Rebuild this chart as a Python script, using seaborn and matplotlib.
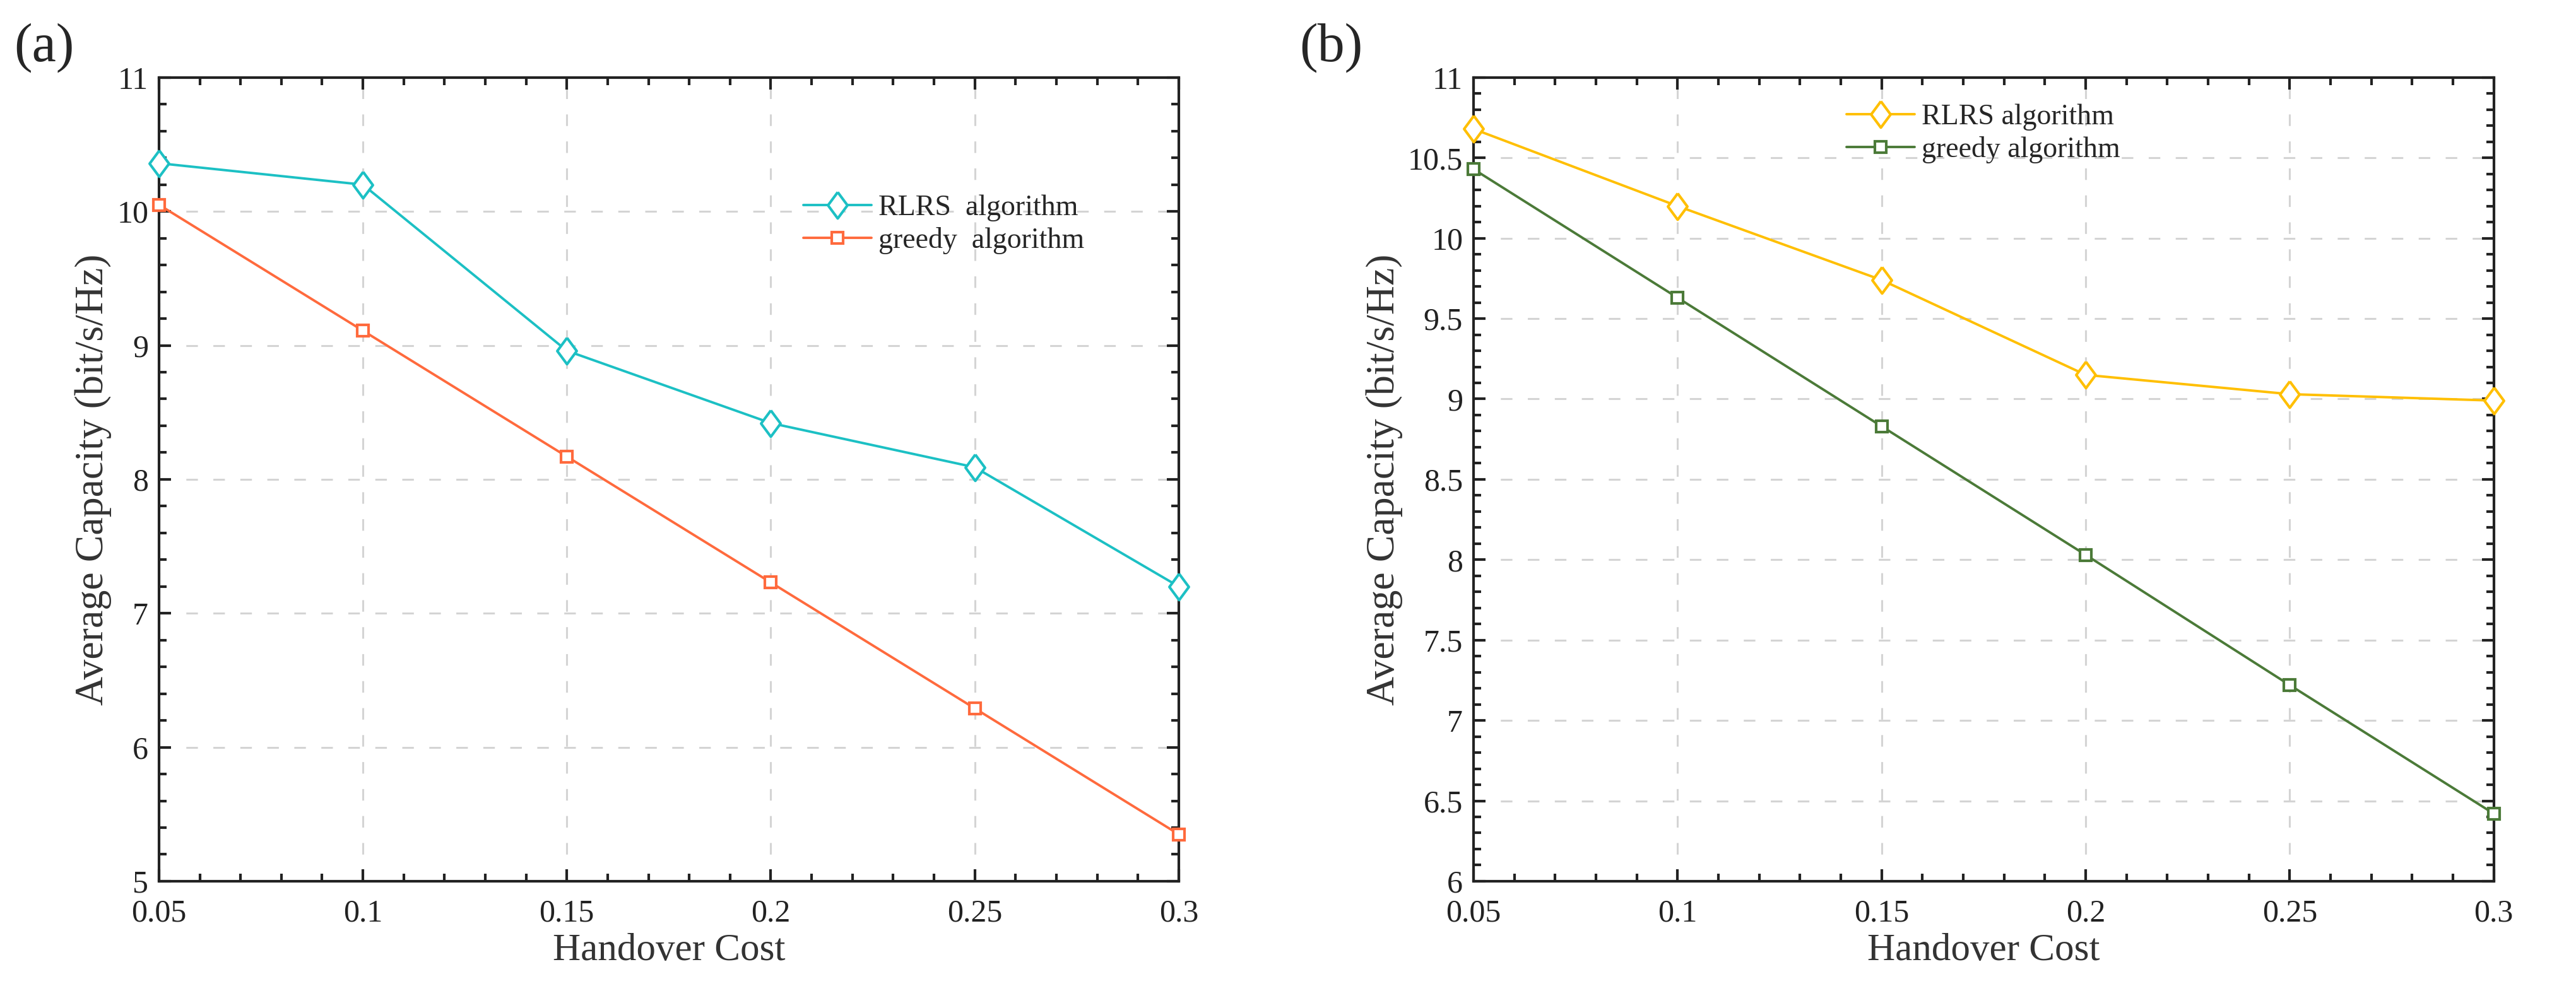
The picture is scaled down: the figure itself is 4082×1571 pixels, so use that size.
import numpy as np
import pandas as pd
import matplotlib
matplotlib.use("Agg")
import matplotlib.pyplot as plt
import seaborn as sns
from matplotlib.ticker import AutoMinorLocator, FormatStrFormatter

# data
handover_cost = [0.05, 0.1, 0.15, 0.2, 0.25, 0.3]
rlrs_a = [10.36, 10.20, 8.96, 8.42, 8.09, 7.20]
greedy_a = [10.05, 9.11, 8.17, 7.23, 6.29, 5.35]
rlrs_b = [10.68, 10.20, 9.74, 9.15, 9.03, 8.99]
greedy_b = [10.43, 9.63, 8.83, 8.03, 7.22, 6.42]

sns.set_theme(style="ticks")
plt.rcParams["font.family"] = ["Liberation Serif", "DejaVu Serif"]
plt.rcParams["axes.linewidth"] = 3
plt.rcParams["xtick.major.width"] = 3
plt.rcParams["ytick.major.width"] = 3
plt.rcParams["xtick.minor.width"] = 3
plt.rcParams["ytick.minor.width"] = 3

diamond = [(0, 1), (0.74, 0), (0, -1), (-0.74, 0), (0, 1)]

fig = plt.figure(figsize=(40.82, 15.71), dpi=100)
ax_a = fig.add_axes([0.0617, 0.1108, 0.3959, 0.811])
ax_b = fig.add_axes([0.572, 0.1108, 0.3961, 0.811])


def draw(ax, rlrs, greedy, c1, c2, names, ylim, ymajor, leg_xy):
    df = pd.DataFrame({"cost": handover_cost, "rlrs": rlrs, "greedy": greedy})
    sns.lineplot(data=df, x="cost", y="rlrs", ax=ax, color=c1, lw=2.8,
                 marker=diamond, markersize=30, markerfacecolor="white",
                 markeredgecolor=c1, markeredgewidth=3, label=names[0],
                 clip_on=False, zorder=4)
    sns.lineplot(data=df, x="cost", y="greedy", ax=ax, color=c2, lw=2.8,
                 marker="s", markersize=13, markerfacecolor="white",
                 markeredgecolor=c2, markeredgewidth=3, label=names[1],
                 clip_on=False, zorder=4)
    ax.set_xlim(0.05, 0.3)
    ax.set_ylim(*ylim)
    ax.set_xticks(handover_cost)
    ax.set_yticks(np.arange(ylim[0], ylim[1] + 1e-9, ymajor))
    ax.xaxis.set_major_formatter(FormatStrFormatter("%g"))
    ax.yaxis.set_major_formatter(FormatStrFormatter("%g"))
    ax.xaxis.set_minor_locator(AutoMinorLocator(5))
    ax.yaxis.set_minor_locator(AutoMinorLocator(5))
    ax.tick_params(which="both", direction="in", top=True, right=True,
                   labelsize=36, colors="#222222")
    ax.tick_params(which="major", length=14)
    ax.tick_params(which="minor", length=8.5)
    ax.tick_params(axis="x", which="major", pad=20)
    ax.tick_params(axis="y", which="major", pad=12)
    ax.grid(True, which="major", color="#d4d4d4", lw=2.2, ls=(0, (6, 8)))
    for s in ax.spines.values():
        s.set_color("#222222")
    ax.set_xlabel("Handover Cost", fontsize=44, color="#333333", labelpad=6)
    ax.set_ylabel("Average Capacity (bit/s/Hz)", fontsize=46,
                  color="#333333", labelpad=6)
    ax.legend(loc="center left", bbox_to_anchor=leg_xy, frameon=False,
              fontsize=33, handlelength=2.35, handletextpad=0.25,
              labelspacing=0.2, borderpad=0, borderaxespad=0)


draw(ax_a, rlrs_a, greedy_a, "#1cc0c4", "#ff6a3d",
     ["RLRS  algorithm", "greedy  algorithm"], (5, 11), 1, (0.632, 0.817))
draw(ax_b, rlrs_b, greedy_b, "#ffbf00", "#4b7a38",
     ["RLRS algorithm", "greedy algorithm"], (6, 11), 0.5, (0.3655, 0.93))

fig.text(0.0055, 0.952, "(a)", fontsize=62, va="center", ha="left")
fig.text(0.5045, 0.952, "(b)", fontsize=62, va="center", ha="left")

fig.savefig("out.png", dpi=100, facecolor="white")
